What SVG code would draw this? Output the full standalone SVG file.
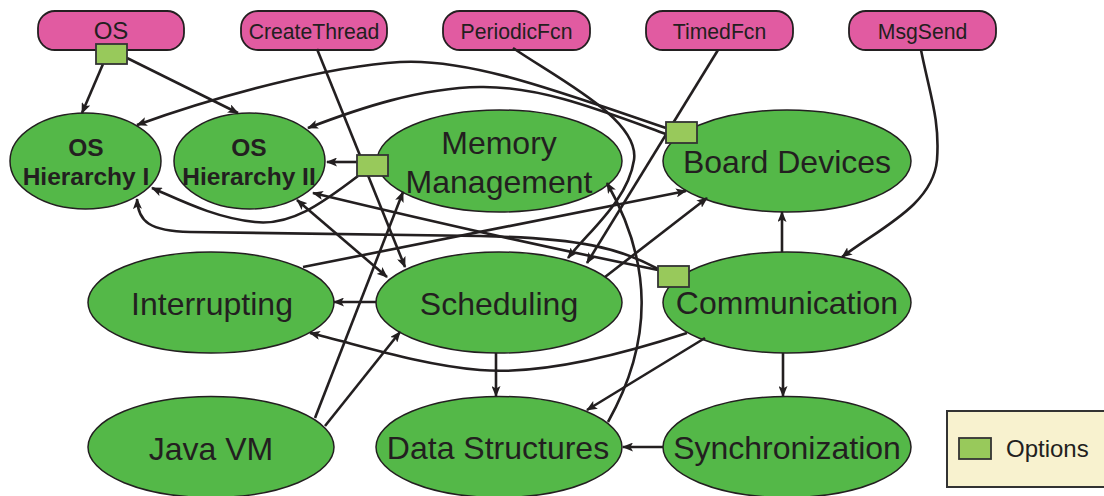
<svg xmlns="http://www.w3.org/2000/svg" width="1104" height="496" viewBox="0 0 1104 496">
<style>
.trig{fill:#e15ba1;stroke:#231f20;stroke-width:1.8}
.trig-t{font-family:"Liberation Sans",Arial,sans-serif;font-size:21.2px;fill:#231f20;text-anchor:middle}
.os-t{font-size:24px}
.comp{fill:#54b848;stroke:#231f20;stroke-width:1.5}
.comp-t{font-family:"Liberation Sans",Arial,sans-serif;font-size:32px;fill:#231f20;text-anchor:middle}
.hier-t{font-family:"Liberation Sans",Arial,sans-serif;font-size:24.5px;font-weight:bold;fill:#231f20;text-anchor:middle}
.opt{fill:#98c95b;stroke:#333;stroke-width:1.8}
.edge{fill:none;stroke:#231f20;stroke-width:2.6;marker-end:url(#arr)}
.both{marker-start:url(#arr)}
</style>
<defs>
<marker id="arr" viewBox="0 0 11 9" refX="10" refY="4.5" markerWidth="11" markerHeight="9" markerUnits="userSpaceOnUse" orient="auto-start-reverse">
<path d="M0,0 L11,4.5 L0,9 L2.5,4.5 z" fill="#231f20"/>
</marker>
</defs>
<rect width="1104" height="496" fill="#ffffff"/>

<g id="node-os"><rect class="trig" x="38" y="11" width="146" height="39" rx="17"/><text class="trig-t os-t" x="111" y="39">OS</text></g>
<g id="node-createthread"><rect class="trig" x="241" y="11" width="146" height="39" rx="17"/><text class="trig-t" x="314" y="38.5">CreateThread</text></g>
<g id="node-periodicfcn"><rect class="trig" x="443" y="11" width="147" height="39" rx="17"/><text class="trig-t" x="516.5" y="38.5">PeriodicFcn</text></g>
<g id="node-timedfcn"><rect class="trig" x="646" y="11" width="147" height="39" rx="17"/><text class="trig-t" x="719.5" y="38.5">TimedFcn</text></g>
<g id="node-msgsend"><rect class="trig" x="849" y="11" width="147" height="39" rx="17"/><text class="trig-t" x="922.5" y="38.5">MsgSend</text></g>

<g id="node-os-hierarchy-1"><ellipse class="comp" cx="85.5" cy="161" rx="75.5" ry="48"/><text class="hier-t" x="86" y="156">OS</text><text class="hier-t" x="86" y="185">Hierarchy I</text></g>
<g id="node-os-hierarchy-2"><ellipse class="comp" cx="249.5" cy="161" rx="75.5" ry="48"/><text class="hier-t" x="249" y="156">OS</text><text class="hier-t" x="249" y="185">Hierarchy II</text></g>
<g id="node-memory"><ellipse class="comp" cx="499.5" cy="161" rx="122.5" ry="51"/><text class="comp-t" x="499" y="154">Memory</text><text class="comp-t" x="499" y="193">Management</text></g>
<g id="node-board"><ellipse class="comp" cx="787" cy="161" rx="124" ry="51"/><text class="comp-t" x="787" y="173">Board Devices</text></g>
<g id="node-interrupting"><ellipse class="comp" cx="211" cy="302.5" rx="123" ry="50.5"/><text class="comp-t" x="212" y="315">Interrupting</text></g>
<g id="node-scheduling"><ellipse class="comp" cx="499" cy="302.5" rx="123" ry="50.5"/><text class="comp-t" x="499" y="315">Scheduling</text></g>
<g id="node-communication"><ellipse class="comp" cx="787" cy="302.5" rx="124" ry="50.5"/><text class="comp-t" x="787" y="314">Communication</text></g>
<g id="node-javavm"><ellipse class="comp" cx="211" cy="447" rx="123" ry="50.5"/><text class="comp-t" x="211" y="460">Java VM</text></g>
<g id="node-datastructures"><ellipse class="comp" cx="499" cy="447" rx="123" ry="50.5"/><text class="comp-t" x="498" y="458.5">Data Structures</text></g>
<g id="node-synchronization"><ellipse class="comp" cx="787" cy="447" rx="124" ry="50.5"/><text class="comp-t" x="787" y="458.5">Synchronization</text></g>

<g id="connectors">
<path class="edge" d="M103,64 L82,113"/>
<path class="edge" d="M127,58 L238,113"/>
<path class="edge" d="M317,49 L405,267"/>
<path class="edge" d="M357,162 L327,162"/>
<path class="edge" d="M358,176 C320,205 290,226 255,222 C215,218 180,200 152,188"/>
<path class="edge" d="M666,128 C560,92 470,58 400,62 C330,66 220,95 137,125"/>
<path class="edge" d="M666,134 C600,110 540,86 480,87 C420,88 360,108 308,128"/>
<path class="edge" d="M658,269 C620,248 580,238 480,236 L190,232 C150,231 138,222 137,199"/>
<path class="edge" d="M658,270 Q500,238 313,193"/>
<path class="edge" d="M513,48 C560,80 640,120 634,160 C628,200 590,230 568,258"/>
<path class="edge" d="M718,50 L587,263"/>
<path class="edge" d="M921,50 C930,95 940,120 937,160 C933,205 880,228 842,257"/>
<path class="edge" d="M782,252 L782,212"/>
<path class="edge" d="M783,353 L783,396"/>
<path class="edge" d="M663,447 L623,447"/>
<path class="edge" d="M496,353 L496,396"/>
<path class="edge" d="M705,338 L587,410"/>
<path class="edge" d="M687,333 C620,355 540,375 480,370 C420,365 360,345 310,333"/>
<path class="edge" d="M376,302 L334,302"/>
<path class="edge" d="M325,426 L400,332"/>
<path class="edge" d="M315,418 L403,192"/>
<path class="edge" d="M608,422 C654,340 652,262 607,183"/>
<path class="edge both" d="M387,277 L297,200"/>
<path class="edge" d="M303,267 L686,191"/>
<path class="edge" d="M605,277 L707,198"/>
</g>

<g id="option-os"><rect class="opt" x="96" y="44" width="31" height="20"/></g>
<g id="option-createthread"><rect class="opt" x="357" y="155" width="31" height="21"/></g>
<g id="option-board"><rect class="opt" x="666" y="122" width="31" height="21"/></g>
<g id="option-communication"><rect class="opt" x="658" y="266" width="31" height="21"/></g>

<g id="legend">
<rect x="947" y="411" width="170" height="76" fill="#f8f2cf" stroke="#333" stroke-width="2"/>
<rect class="opt" x="959" y="438" width="32" height="21"/>
<text x="1006" y="457" font-family="Liberation Sans, Arial, sans-serif" font-size="24" fill="#231f20">Options</text>
</g>
</svg>
